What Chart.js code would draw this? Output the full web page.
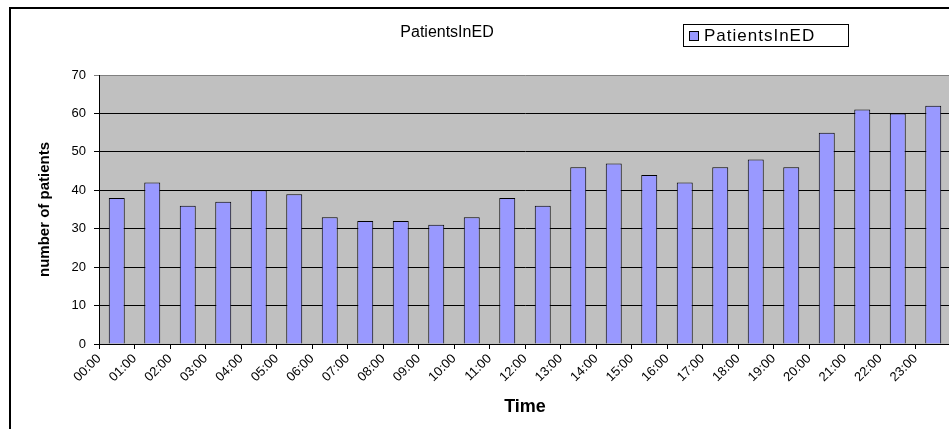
<!DOCTYPE html>
<html>
<head>
<meta charset="utf-8">
<script src="https://cdn.jsdelivr.net/npm/chart.js@4.4.0/dist/chart.umd.min.js"></script>
<style>
    html, body { margin: 0; padding: 0; background: #fff; overflow: hidden; width: 949px; height: 429px; }
    #frame { position: absolute; left: 9px; top: 7px; border-left: 2px solid #000; border-top: 2px solid #000; }
    canvas { display: block; }
</style>
</head>
<body>
<div id="frame"><canvas id="myChart" width="940" height="420"></canvas></div>
<script>
const chartTitle = 'PatientsInED';
const seriesName = 'PatientsInED';
const hours = ['00:00', '01:00', '02:00', '03:00', '04:00', '05:00', '06:00', '07:00',
    '08:00', '09:00', '10:00', '11:00', '12:00', '13:00', '14:00', '15:00',
    '16:00', '17:00', '18:00', '19:00', '20:00', '21:00', '22:00', '23:00'];
const patients = [38, 42, 36, 37, 40, 39, 33, 32, 32, 31, 33, 38,
    36, 46, 47, 44, 42, 46, 48, 46, 55, 61, 60, 62];
const yTicks = [0, 10, 20, 30, 40, 50, 60, 70];

const fontFamily = '"Liberation Sans", Arial, sans-serif';
Chart.defaults.font.family = fontFamily;
Chart.defaults.color = '#000';

// grey plot area like the old excel charts
const plotBackground = {
    id: 'plotBackground',
    beforeDraw(chart) {
        const { ctx, chartArea } = chart;
        ctx.save();
        ctx.fillStyle = '#C0C0C0';
        ctx.fillRect(chartArea.left, chartArea.top, chartArea.width, chartArea.height);
        ctx.restore();
    }
};

// title and legend sit on the same line, so draw them by hand
const titleAndLegend = {
    id: 'titleAndLegend',
    afterDraw(chart) {
        const ctx = chart.ctx;
        const ds = chart.data.datasets[0];
        ctx.save();
        ctx.font = '16px ' + fontFamily;
        ctx.fillStyle = '#000';
        ctx.textAlign = 'center';
        ctx.textBaseline = 'middle';
        ctx.fillText(chartTitle, 436, 24);

        ctx.strokeStyle = '#000';
        ctx.lineWidth = 1;
        ctx.strokeRect(672.5, 15.5, 165, 22);
        ctx.fillStyle = ds.backgroundColor;
        ctx.fillRect(678.5, 22.5, 9, 9);
        ctx.strokeRect(678.5, 22.5, 9, 9);
        ctx.fillStyle = '#000';
        ctx.textAlign = 'left';
        ctx.font = '17px ' + fontFamily;
        ctx.letterSpacing = '1px';
        ctx.fillText(ds.label, 693, 27);
        ctx.restore();
    }
};

const ctx = document.getElementById('myChart').getContext('2d');
const chart = new Chart(ctx, {
    type: 'bar',
    data: {
        labels: hours,
        datasets: [{
            label: seriesName,
            data: patients,
            backgroundColor: '#9999FF',
            borderColor: '#000',
            borderWidth: 1,
            categoryPercentage: 1,
            barPercentage: 0.45
        }]
    },
    options: {
        responsive: false,
        animation: false,
        layout: { padding: { top: 66, left: 0, right: 0, bottom: 0 } },
        plugins: {
            legend: { display: false },
            title: { display: false },
            tooltip: { enabled: false }
        },
        scales: {
            x: {
                offset: true,
                grid: { offset: true, drawOnChartArea: false, color: '#000', tickLength: 5 },
                border: { color: '#000' },
                ticks: {
                    font: { size: 13 },
                    color: '#000',
                    minRotation: 45,
                    maxRotation: 45,
                    autoSkip: false,
                    labelOffset: -17.75,
                    padding: 2
                },
                title: {
                    display: true,
                    text: 'Time',
                    font: { size: 18, weight: 'bold' },
                    color: '#000',
                    padding: { top: 0, bottom: 11 }
                },
                afterFit(scale) { scale.height = 85; }
            },
            y: {
                min: 0,
                max: 70,
                afterBuildTicks(scale) { scale.ticks = yTicks.map(v => ({ value: v })); },
                ticks: { font: { size: 13 }, color: '#000', padding: 8 },
                grid: {
                    color: c => (c.tick && c.tick.value === 70 ? '#808080' : '#000'),
                    tickLength: 5,
                    lineWidth: 1
                },
                border: { color: '#000' },
                title: {
                    display: true,
                    text: 'number of patients',
                    font: { size: 15, weight: 'bold' },
                    color: '#000',
                    padding: { top: 25, bottom: 0 }
                },
                afterFit(scale) { scale.width = 88; }
            }
        }
    },
    plugins: [plotBackground, titleAndLegend]
});
</script>
</body>
</html>
